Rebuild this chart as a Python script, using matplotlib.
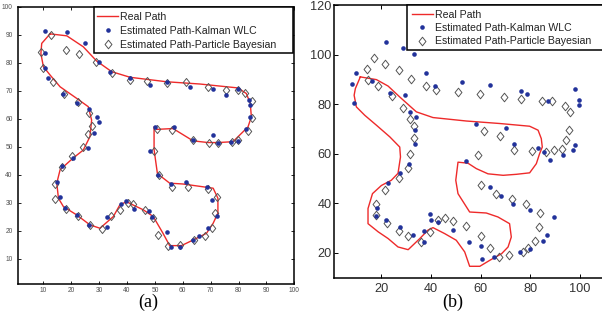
import matplotlib
matplotlib.use("Agg")
import matplotlib.pyplot as plt
from matplotlib.path import Path
from matplotlib.lines import Line2D
from matplotlib.patches import Rectangle

# ---------------- data: panel (a) ----------------
path_a_x = [12.4, 18.4, 24.3, 29.1, 34.5, 41.1, 54.2, 66.1, 79.8, 82.8, 84.2, 84.6, 83.4, 78.0,
            72.6, 69.1, 63.7, 56.5, 50.6, 49.7, 49.7, 50.9, 55.3, 60.1, 70.9, 72.6, 72.6, 70.9,
            68.5, 63.7, 59.5, 55.3, 52.9, 49.4, 45.8, 42.2, 39.8, 37.4, 35.1, 30.3, 26.7, 21.9,
            17.2, 15.4, 14.8, 16.0, 20.7, 24.3, 26.7, 27.3, 26.1, 21.9, 16.0, 12.4, 10.0, 9.1,
            9.4, 12.4]
path_a_y = [90.3, 89.6, 85.7, 80.6, 76.8, 74.8, 73.2, 72.4, 71.0, 69.0, 65.5, 60.7, 57.1, 51.8,
            51.5, 51.5, 52.1, 56.5, 56.2, 57.1, 49.0, 40.4, 37.0, 36.7, 35.2, 31.6, 26.3, 22.7,
            19.1, 16.7, 14.7, 14.7, 19.1, 25.1, 27.5, 29.2, 30.4, 29.2, 25.1, 20.9, 22.1, 25.7,
            28.6, 31.6, 37.0, 41.8, 46.0, 48.8, 53.6, 59.5, 64.3, 67.3, 71.4, 75.6, 78.6, 83.3,
            86.9, 90.3]

kal_a_x = [10.6, 18.4, 24.9, 10.4, 10.6, 11.8, 29.8, 33.9, 41.0, 48.2, 54.2, 62.7, 70.9, 75.6,
           79.7, 83.7, 84.2, 84.0, 82.8, 70.9, 72.6, 77.4, 79.8, 50.2, 56.9, 17.2, 22.2, 26.5,
           29.1, 29.8, 28.1, 26.1, 20.7, 48.4, 16.6, 14.8, 16.0, 17.8, 22.2, 26.5, 32.9, 32.9,
           37.8, 39.8, 42.6, 47.9, 49.1, 54.4, 55.9, 58.9, 63.7, 65.7, 69.2, 72.1, 70.6, 68.7,
           61.3, 55.7, 51.2, 63.5]
kal_a_y = [91.3, 91.0, 86.9, 83.6, 78.2, 74.6, 80.2, 76.8, 74.6, 72.0, 73.2, 71.5, 70.5, 68.5,
           70.5, 66.7, 64.9, 60.7, 56.2, 54.2, 51.2, 51.8, 52.1, 56.9, 57.1, 69.0, 65.7, 63.5,
           60.5, 58.8, 54.8, 49.6, 46.0, 48.6, 43.0, 37.3, 32.0, 28.3, 25.7, 22.1, 24.8, 21.2,
           29.6, 30.8, 27.8, 27.2, 24.8, 19.5, 14.1, 14.1, 16.7, 18.1, 20.9, 25.3, 31.0, 35.8,
           37.3, 36.7, 40.0, 52.3]

pf_a_x = [12.6, 18.0, 22.9, 9.1, 10.0, 13.6, 17.5, 22.5, 26.5, 27.3, 26.1, 24.1, 20.1, 28.9,
          34.5, 41.0, 47.0, 54.4, 61.3, 69.1, 75.6, 79.8, 82.2, 84.8, 84.8, 83.4, 79.8, 77.7,
          72.6, 69.3, 63.5, 56.3, 50.9, 49.7, 16.6, 14.2, 14.2, 18.0, 22.4, 26.7, 31.0, 34.2,
          37.4, 40.2, 42.2, 46.3, 49.4, 51.2, 54.8, 58.9, 63.9, 68.1, 70.6, 71.4, 72.3, 69.1,
          62.0, 56.3, 51.4]
pf_a_y = [89.9, 84.5, 83.1, 83.9, 78.0, 73.2, 68.7, 66.1, 61.9, 57.4, 54.5, 49.8, 46.7, 80.1,
          76.2, 73.8, 73.6, 72.6, 73.2, 71.2, 70.2, 70.2, 69.3, 66.3, 60.1, 55.7, 52.4, 51.8,
          51.4, 51.2, 52.4, 56.0, 56.5, 48.4, 42.7, 36.7, 31.4, 27.8, 25.4, 22.1, 20.6, 25.3,
          27.5, 29.8, 29.5, 27.5, 24.5, 18.5, 14.6, 14.9, 16.7, 18.1, 20.9, 26.5, 32.0, 34.9,
          35.6, 35.5, 40.0]

# ---------------- data: panel (b) ----------------
path_b_x = [11.5, 18.0, 22.7, 27.4, 34.1, 40.8, 54.3, 67.7, 79.8, 83.2, 84.5, 84.9, 83.8, 82.5,
            79.8, 74.4, 69.1, 63.0, 58.3, 54.9, 50.9, 50.0, 50.9, 55.6, 62.3, 67.0, 71.7, 72.4,
            71.1, 68.5, 63.7, 59.7, 55.6, 53.6, 50.2, 45.5, 40.8, 38.8, 35.5, 30.8, 26.7, 22.7,
            18.7, 14.6, 14.6, 16.4, 20.0, 24.0, 26.7, 27.7, 27.4, 23.4, 18.0, 13.3, 9.9, 9.0,
            9.5, 11.5]
path_b_y = [91.0, 89.9, 87.3, 82.9, 76.9, 74.6, 73.2, 72.2, 71.1, 69.5, 66.1, 62.7, 60.0, 56.0,
            52.3, 51.7, 51.3, 51.9, 54.0, 56.2, 56.6, 49.3, 43.9, 36.5, 36.1, 34.5, 31.8, 26.4,
            22.4, 19.7, 17.0, 14.6, 14.6, 20.4, 25.1, 27.8, 30.2, 29.2, 25.8, 21.3, 22.4, 25.8,
            28.5, 31.8, 37.9, 43.9, 47.2, 49.3, 52.1, 58.7, 62.7, 66.8, 71.5, 75.5, 78.9, 83.6,
            86.3, 91.0]

kal_b_x = [21.7, 28.7, 33.0, 9.7, 8.2, 9.0, 16.4, 23.4, 29.4, 37.9, 41.8, 52.7, 63.7, 76.5,
           78.7, 31.7, 33.8, 33.4, 33.4, 58.3, 70.4, 73.4, 83.0, 87.2, 98.0, 99.7, 99.7, 98.0,
           97.3, 87.9, 85.5, 93.3, 54.3, 63.7, 68.1, 73.1, 79.8, 89.5, 27.4, 22.7, 31.1, 18.4,
           18.0, 22.0, 27.4, 32.8, 37.1, 37.1, 39.5, 40.2, 42.8, 48.9, 55.3, 60.0, 60.7, 65.3,
           75.8, 79.8, 85.2, 86.8]
kal_b_y = [104.9, 102.7, 100.2, 92.4, 88.1, 80.5, 89.4, 84.6, 83.6, 92.4, 87.4, 89.0, 87.7, 85.4,
           84.3, 76.9, 75.0, 69.5, 63.8, 71.9, 70.5, 64.1, 62.2, 81.3, 86.2, 81.6, 79.6, 63.7,
           61.4, 57.6, 60.7, 59.3, 56.9, 46.6, 43.0, 39.9, 37.2, 34.5, 52.2, 48.3, 56.0, 38.1,
           34.8, 33.4, 30.5, 27.2, 28.9, 24.4, 35.8, 33.2, 32.5, 29.2, 24.4, 22.7, 17.6, 18.4,
           20.3, 21.6, 24.8, 27.2]

pf_b_x = [16.9, 14.0, 14.6, 21.3, 18.7, 24.4, 27.1, 31.8, 37.9, 42.2, 50.9, 59.9, 69.3, 76.2,
          84.8, 88.8, 94.1, 96.0, 95.7, 94.6, 92.9, 89.6, 86.5, 80.9, 73.5, 67.7, 61.3, 59.0,
          28.7, 31.7, 33.0, 33.0, 31.4, 30.8, 26.9, 21.3, 17.7, 18.0, 22.4, 27.1, 30.8, 36.1,
          39.5, 42.8, 45.8, 48.9, 54.3, 60.0, 63.9, 67.4, 71.3, 77.3, 79.1, 81.8, 83.5, 84.1,
          78.5, 72.6, 66.4, 60.3]
pf_b_y = [98.8, 94.1, 89.9, 96.4, 87.3, 83.2, 93.7, 90.1, 87.3, 85.6, 85.0, 83.9, 82.7, 81.9,
          81.3, 81.3, 79.3, 76.9, 69.5, 65.7, 62.0, 61.6, 60.6, 61.1, 61.4, 67.0, 69.1, 59.3,
          78.5, 74.0, 71.1, 66.4, 60.0, 54.4, 50.1, 45.3, 39.9, 35.4, 32.1, 28.8, 26.7, 24.4,
          28.6, 33.2, 34.2, 32.8, 30.8, 26.7, 22.1, 18.4, 19.3, 20.4, 22.1, 24.8, 30.5, 36.2,
          39.6, 41.6, 43.6, 47.5]

labels = ["Real Path", "Estimated Path-Kalman WLC", "Estimated Path-Particle Bayesian"]
ticks_a = [10, 20, 30, 40, 50, 60, 70, 80, 90, 100]
ticks_bx = [20, 40, 60, 80, 100]
ticks_by = [20, 40, 60, 80, 100, 120]

# ---------------- styles ----------------
RED = "#ee2a2a"
BLUE = "#22329a"
GRAY = "#555555"
W, H = 602, 320
diamond = Path([(0, 1), (0.8, 0), (0, -1), (-0.8, 0), (0, 1)],
               [Path.MOVETO, Path.LINETO, Path.LINETO, Path.LINETO, Path.CLOSEPOLY])

plt.rcParams['font.family'] = ['Liberation Sans', 'DejaVu Sans']

fig = plt.figure(figsize=(W / 100, H / 100), dpi=100)


def px_ax(l, t, r, b):
    return [l / W, 1 - b / H, (r - l) / W, (b - t) / H]


def draw(ax, px, py, kx, ky, dx, dy, msd):
    ax.plot(px, py, color=RED, lw=1.0, zorder=2)
    ax.plot(dx, dy, ls='none', marker=diamond, ms=msd, mfc='none', mec=GRAY, mew=0.7, zorder=3)
    ax.plot(kx, ky, ls='none', marker='o', ms=3.3, mfc=BLUE, mec=BLUE, mew=0, zorder=4)
    for s in ax.spines.values():
        s.set_linewidth(1.1)
        s.set_color('black')


# panel (a)
ax_a = fig.add_axes(px_ax(18.3, 6.7, 294.3, 284))
draw(ax_a, path_a_x, path_a_y, kal_a_x, kal_a_y, pf_a_x, pf_a_y, 5.8)
ax_a.set_xlim(1, 100)
ax_a.set_ylim(1, 100)
ax_a.set_xticks(ticks_a)
ax_a.set_yticks(ticks_a)
ax_a.tick_params(direction='in', length=2.2, width=0.6, top=True, right=True,
                 labelsize=4.8, labelcolor='#505050')
ax_a.tick_params(axis='y', pad=4)
ax_a.tick_params(axis='x', pad=2.2)

# panel (b)
ax_b = fig.add_axes(px_ax(334.3, 5, 334.3 + 109 * 2.479, 277.7))
draw(ax_b, path_b_x, path_b_y, kal_b_x, kal_b_y, pf_b_x, pf_b_y, 6.2)
ax_b.set_xlim(1, 110)
ax_b.set_ylim(10, 120)
ax_b.set_xticks(ticks_bx)
ax_b.set_yticks(ticks_by)
ax_b.tick_params(direction='in', length=3, width=0.7, top=True, right=False,
                 labelsize=9.2, labelcolor='#333333')
ax_b.tick_params(axis='y', pad=2)
ax_b.tick_params(axis='x', pad=3.5)

# legends
handles = [
    Line2D([], [], color=RED, lw=1.0),
    Line2D([], [], ls='none', marker='o', ms=3.3, mfc=BLUE, mec=BLUE, mew=0),
    Line2D([], [], ls='none', marker=diamond, ms=6.2, mfc='none', mec=GRAY, mew=0.7),
]


def legend(ax, hx, ty, box, spacing, fs):
    l, t, r, b = box
    rect = Rectangle((l / W, 1 - b / H), (r - l) / W, (b - t) / H,
                     transform=fig.transFigure, fill=True, fc='white',
                     ec='black', lw=1.1, zorder=5, clip_on=False)
    ax.add_artist(rect)
    lg = ax.legend(handles, labels, loc='upper left', bbox_to_anchor=(hx / W, 1 - ty / H),
                   bbox_transform=fig.transFigure, frameon=False, borderpad=0,
                   borderaxespad=0, handlelength=2.0, handletextpad=0.22,
                   labelspacing=spacing, fontsize=fs)
    for txt in lg.get_texts():
        txt.set_color('#222222')
    lg.set_zorder(6)


legend(ax_a, 97, 12, (94, 7, 293, 53), 0.38, 7.6)
legend(ax_b, 411.5, 9.5, (407.3, 5, 640, 50), 0.32, 7.6)

# panel labels
fig.text(148 / W, 1 - 302 / H, "(a)", family='Liberation Serif', fontsize=13,
         ha='center', va='center')
fig.text(453 / W, 1 - 302 / H, "(b)", family='Liberation Serif', fontsize=13,
         ha='center', va='center')

fig.savefig("out.png", dpi=100)
